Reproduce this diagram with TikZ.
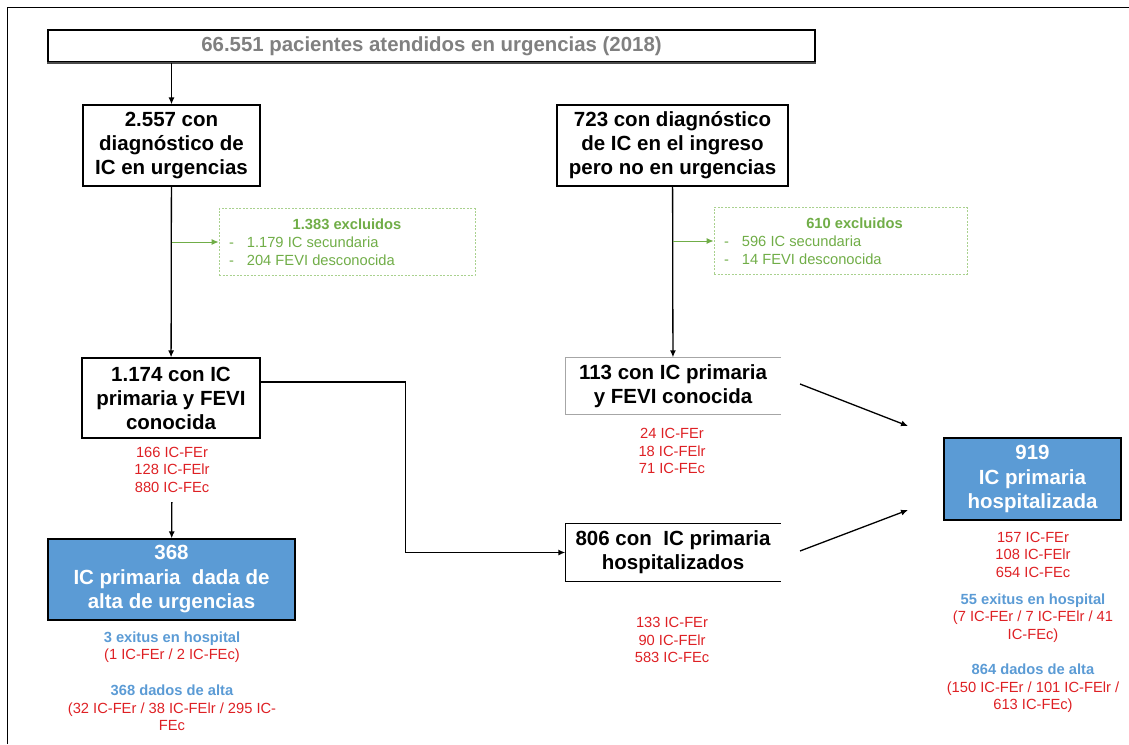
\documentclass[tikz,border=0pt]{standalone}
\usepackage{fontspec}
\setmainfont{Liberation Sans}
\usepackage{tikz}
\usetikzlibrary{arrows.meta,positioning}
\definecolor{icred}{RGB}{222,32,36}
\definecolor{icblue}{RGB}{91,155,213}
\definecolor{icgreen}{RGB}{112,173,71}
\definecolor{icgreenlight}{RGB}{169,209,142}
\definecolor{icgray}{RGB}{128,128,128}
\newcommand{\bluehead}[1]{{\color{icblue}\bfseries #1}}
\tikzset{
  topbox/.style={ draw, line width=1.2pt, text=icgray, font=\fontsize{20.4}{24}\selectfont\bfseries }
}
\tikzset{
  flowbox/.style={ draw, line width=1.2pt, fill=white, align=center, font=\fontsize{20.5}{24}\selectfont\bfseries }
}
\tikzset{
  openbox/.style={ align=center, font=\fontsize{20.5}{24}\selectfont\bfseries }
}
\tikzset{
  bluebox/.style={ draw, line width=1.2pt, fill=icblue, text=white, align=center, font=\fontsize{20.5}{24.5}\selectfont\bfseries }
}
\tikzset{
  exclbox/.style={ draw=icgreenlight, dash pattern=on 2pt off 1.5pt, line width=0.8pt, text=icgreen, align=center, inner sep=10pt, minimum height=60pt, font=\fontsize{14.7}{18}\selectfont }
}
\tikzset{
  redtxt/.style={ text=icred, align=center, font=\fontsize{14.7}{17.5}\selectfont }
}
\tikzset{
  greenarrow/.style={ ->, icgreen, line width=1pt }
}

\begin{document}
\begin{tikzpicture}[x=1pt, y=-1pt, >={Latex[length=7pt,width=6pt]}, line width=1.3pt]
  \useasboundingbox (0,0) rectangle (1129,744);
  \draw[line width=1pt] (7,744) -- (7,7) -- (1129,7);

  \node[topbox, minimum width=767pt, minimum height=32pt] (total) at (431.5,46) {66.551 pacientes atendidos en urgencias (2018)};
  \draw[black!70, line width=2pt] (total.south west) -- (total.south east);

  \node[flowbox, minimum width=177pt, minimum height=81pt] (urg) at (171.5,145.5) {2.557 con\\diagnóstico de\\IC en urgencias};
  \node[flowbox, minimum width=231pt, minimum height=81pt] (ingreso) at (672.5,145.5) {723 con diagnóstico\\de IC en el ingreso\\pero no en urgencias};

  \node[exclbox, minimum width=256pt] (exclurg) at (347,242) {\textbf{1.383 excluidos}\\\makebox[236pt][l]{-\hspace{13pt}1.179 IC secundaria}\\\makebox[236pt][l]{-\hspace{13pt}204 FEVI desconocida}};
  \node[exclbox, minimum width=253pt] (exclingr) at (840.5,241) {\makebox[233pt]{\hspace{28pt}\textbf{610 excluidos}}\\\makebox[233pt][l]{-\hspace{13pt}596 IC secundaria}\\\makebox[233pt][l]{-\hspace{13pt}14 FEVI desconocida}};

  \node[flowbox, minimum width=178pt, minimum height=80pt] (fevurg) at (171,398) {1.174 con IC\\primaria y FEVI\\conocida};
  \node[redtxt] (fevurgfe) at (172,469.5) {166 IC-FEr\\128 IC-FElr\\880 IC-FEc};

  \node[openbox, minimum width=214pt, minimum height=56pt] (fevingr) at (673,386) {113 con IC primaria\\y FEVI conocida};
  \draw[black!35, line width=1pt] (fevingr.north east) -- (fevingr.north west) -- (fevingr.south west) -- (fevingr.south east);
  \node[redtxt] (fevingrfe) at (672,451) {24 IC-FEr\\18 IC-FElr\\71 IC-FEc};

  \node[openbox, minimum width=214pt, minimum height=57pt] (hosp) at (673,552.5) {806 con\ \ IC primaria\\hospitalizados};
  \draw[line width=1pt] (hosp.north east) -- (hosp.north west) -- (hosp.south west) -- (hosp.south east);
  \node[redtxt] (hospfe) at (672,640) {133 IC-FEr\\90 IC-FElr\\583 IC-FEc};

  \node[bluebox, minimum width=247pt, minimum height=81pt] (alta) at (171.5,579.5) {368\\IC primaria\ \ dada de\\alta de urgencias};
  \node[redtxt] (altaexit) at (172,647) {\bluehead{3 exitus en hospital}\\(1 IC-FEr / 2 IC-FEc)};
  \node[redtxt] (altadados) at (172,708) {\bluehead{368 dados de alta}\\(32 IC-FEr / 38 IC-FElr / 295 IC-\\FEc};

  \node[bluebox, minimum width=177pt, minimum height=82pt] (hosptot) at (1032.5,479) {919\\IC primaria\\hospitalizada};
  \node[redtxt] (hosptotfe) at (1033,554.5) {157 IC-FEr\\108 IC-FElr\\654 IC-FEc};
  \node[redtxt] (hospexit) at (1033,618) {\bluehead{55 exitus en hospital}\\(7 IC-FEr / 7 IC-FElr / 41\\IC-FEc)};
  \node[redtxt] (hospdados) at (1033,688.5) {\bluehead{864 dados de alta}\\(150 IC-FEr / 101 IC-FElr /\\613 IC-FEc)};

  \coordinate (fevingrout) at (800,384);
  \coordinate (hospout) at (800,551);
  \coordinate (hosptotin1) at (908,426);
  \coordinate (hosptotin2) at (908,510);

  \draw[->] (urg.north |- total.south) -- (urg);
  \draw[->] (urg) -- (fevurg);
  \draw[greenarrow] (urg |- exclurg.west) -- (exclurg.west);
  \draw[->] (ingreso) -- (fevingr);
  \draw[greenarrow] (ingreso |- exclingr.west) -- (exclingr.west);
  \draw[->, shorten <=6pt] (fevurgfe) -- (alta);
  \draw[->, line width=1.6pt] ([yshift=16pt]fevurg.east) -- ++(145,0) |- (hosp.west);
  \draw[->] (fevingrout) -- (hosptotin1);
  \draw[->] (hospout) -- (hosptotin2);
\end{tikzpicture}
\end{document}
